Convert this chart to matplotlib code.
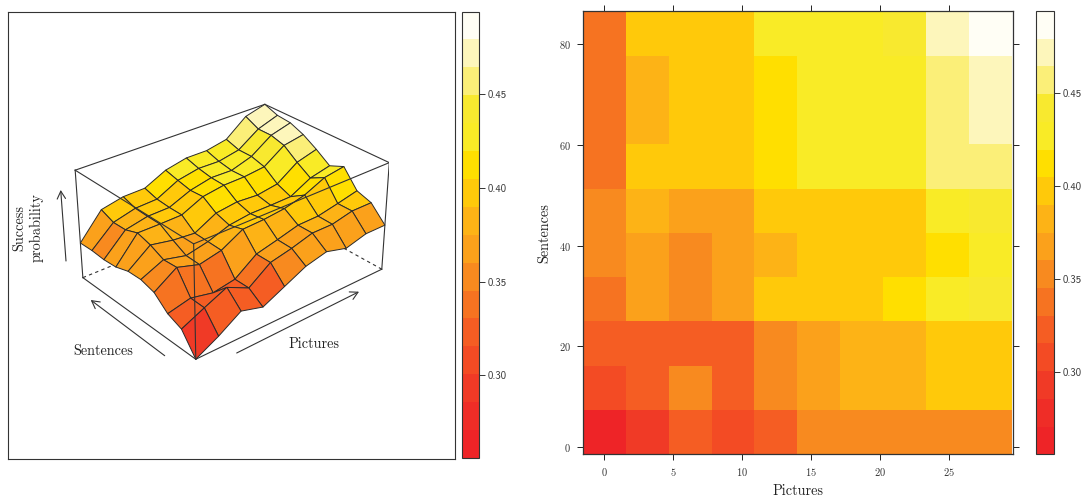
import numpy as np
import matplotlib
matplotlib.use('Agg')
import matplotlib.pyplot as plt
from matplotlib.colors import ListedColormap, BoundaryNorm
from matplotlib.cm import ScalarMappable

plt.rcParams['font.family'] = 'cmr10'
plt.rcParams['axes.formatter.use_mathtext'] = True

pictures = [0, 3.11, 6.22, 9.33, 12.44, 15.56, 18.67, 21.78, 24.89, 28]
sentences = [3, 11.8, 20.6, 29.3, 38.1, 46.9, 55.7, 64.4, 73.2, 82]

# rows go from the lowest sentences value up
row_03 = [.262, .287, .317, .304, .326, .348, .359, .347, .359, .359]
row_12 = [.304, .326, .347, .325, .358, .368, .381, .381, .391, .391]
row_21 = [.316, .327, .317, .325, .358, .369, .381, .382, .391, .401]
row_29 = [.341, .372, .358, .368, .393, .395, .400, .411, .431, .438]
row_38 = [.349, .370, .359, .369, .385, .391, .391, .392, .415, .425]
row_47 = [.348, .383, .374, .370, .394, .400, .397, .404, .434, .446]
row_56 = [.339, .391, .391, .392, .413, .420, .421, .426, .456, .464]
row_64 = [.337, .381, .391, .392, .411, .421, .420, .434, .464, .476]
row_73 = [.339, .380, .392, .394, .417, .426, .425, .434, .464, .479]
row_82 = [.338, .391, .401, .402, .424, .434, .434, .443, .478, .490]
success = np.array([row_03, row_12, row_21, row_29, row_38, row_47, row_56, row_64, row_73, row_82])

levels = [.2559, .2708, .2857, .3006, .3155, .3304, .3453, .3602, .3751,
          .3900, .4049, .4198, .4347, .4496, .4645, .4794, .4943]
colours = ['#EE2427', '#EF2D27', '#F03A26', '#F34B24', '#F55D23', '#F67321', '#F88A1F', '#FBA11B',
           '#FDB316', '#FFC90A', '#FFDF00', '#F9EB26', '#F8E92F', '#FBEF78', '#FDF6BB', '#FFFEF5']
bar_ticks = [.30, .35, .40, .45]
W, H = 1090, 504
line_col = '#2a2a2a'

cmap = ListedColormap(colours)
norm = BoundaryNorm(levels, cmap.N)


def box(x0, y0, x1, y1):
    # pixel box measured from the top left, to figure fractions
    return [x0 / W, 1 - y1 / H, (x1 - x0) / W, (y1 - y0) / H]


def colourbar(fig, rect):
    cax = fig.add_axes(rect)
    cb = fig.colorbar(ScalarMappable(norm=norm, cmap=cmap), cax=cax, ticks=bar_ticks, format='%.2f')
    cb.outline.set_linewidth(0.8)
    cb.outline.set_edgecolor('#333333')
    cb.minorticks_off()
    cax.tick_params(axis='y', length=4, width=0.7, pad=2.5, labelsize=7.7, color='#333333', labelcolor='#333333')
    for t in cax.get_yticklabels():
        t.set_family('cmss10')
    return cb


fig = plt.figure(figsize=(W / 100, H / 100), dpi=100)

# left panel frame
frame = fig.add_axes(box(8, 12, 455, 459))
frame.set_xticks([])
frame.set_yticks([])
for s in frame.spines.values():
    s.set_linewidth(0.8)
    s.set_edgecolor('#333333')

ax = fig.add_axes(box(68.5, 65.2, 389.2, 385.9), projection='3d', computed_zorder=False)
ax.patch.set_alpha(0)
ax.set_axis_off()

X, Y = np.meshgrid(pictures, sentences)
facet = (success[:-1, :-1] + success[1:, :-1] + success[:-1, 1:] + success[1:, 1:]) / 4
ax.plot_surface(X, Y, success, rstride=1, cstride=1, facecolors=cmap(norm(facet)), shade=False,
                edgecolor=line_col, linewidth=0.7, zorder=2)

x0, x1 = pictures[0], pictures[-1]
y0, y1 = sentences[0], sentences[-1]
z0, z1 = success.min(), success.max()
ax.set_xlim(x0, x1, view_margin=0)
ax.set_ylim(y0, y1, view_margin=0)
ax.set_zlim(z0, z1, view_margin=0)
ax.view_init(elev=29.28, azim=-130.07)
ax.set_box_aspect((1.998, 1.506, 1))
ax.set_proj_type('persp', focal_length=0.699)

box_style = dict(color='#333333', lw=0.8)
# back edges sit behind the surface
ax.plot([x0, x1], [y1, y1], [z1, z1], zorder=1, **box_style)
ax.plot([x1, x1], [y0, y1], [z1, z1], zorder=1, **box_style)
ax.plot([x0, x1], [y1, y1], [z0, z0], zorder=1, ls=(0, (3, 3)), **box_style)
ax.plot([x1, x1], [y0, y1], [z0, z0], zorder=1, ls=(0, (3, 3)), **box_style)
# front edges on top
ax.plot([x0, x1], [y0, y0], [z0, z0], zorder=3, **box_style)
ax.plot([x0, x0], [y0, y1], [z0, z0], zorder=3, **box_style)
ax.plot([x0, x1], [y0, y0], [z1, z1], zorder=3, **box_style)
ax.plot([x0, x0], [y0, y1], [z1, z1], zorder=3, **box_style)
ax.plot([x0, x0], [y0, y0], [z0, z1], zorder=3, **box_style)
ax.plot([x1, x1], [y0, y0], [z0, z1], zorder=3, **box_style)
ax.plot([x0, x0], [y1, y1], [z0, z1], zorder=3, **box_style)


def pix(x, y):
    return x / W, 1 - y / H


arrow = dict(arrowstyle='->,head_length=0.55,head_width=0.3', color='#333333', lw=0.8, shrinkA=0, shrinkB=0)
for a, b in [((66, 261), (60.7, 190)), ((164.7, 355.7), (90.7, 300)), ((236.7, 353), (359, 291.7))]:
    frame.annotate('', xy=pix(*b), xytext=pix(*a), xycoords='figure fraction', textcoords='figure fraction',
                   arrowprops=arrow, zorder=5, annotation_clip=False)
fig.text(*pix(102.7, 350.7), 'Sentences', ha='center', va='center', fontsize=10.3, color='#222222')
fig.text(*pix(314, 344), 'Pictures', ha='center', va='center', fontsize=10.3, color='#222222')
fig.text(*pix(28, 228), 'Success\nprobability', ha='center', va='center', rotation=90, fontsize=10.3,
         color='#222222', linespacing=1.25, multialignment='center')

colourbar(fig, box(461.5, 11.5, 479, 458))

# right panel
ax2 = fig.add_axes(box(582.7, 11, 1012.7, 454.3))
ax2.pcolormesh(pictures, sentences, success, shading='nearest', cmap=cmap, norm=norm)
ax2.set_xlim(-1.565, 29.6)
ax2.set_ylim(-1.4, 86.5)
ax2.set_xticks([0, 5, 10, 15, 20, 25])
ax2.set_yticks([0, 20, 40, 60, 80])
ax2.tick_params(axis='both', top=True, right=True, length=4.2, width=0.7, labelsize=7.5, pad=4.5,
                color='#222222', labelcolor='#333333')
for s in ax2.spines.values():
    s.set_linewidth(0.9)
    s.set_edgecolor('#333333')
ax2.set_xlabel('Pictures', fontsize=10.3, labelpad=4, color='#222222')
ax2.set_ylabel('Sentences', fontsize=10.3, labelpad=5.5, color='#222222')

colourbar(fig, box(1036, 11, 1053.7, 454.3))

fig.savefig('out.png', dpi=100)
